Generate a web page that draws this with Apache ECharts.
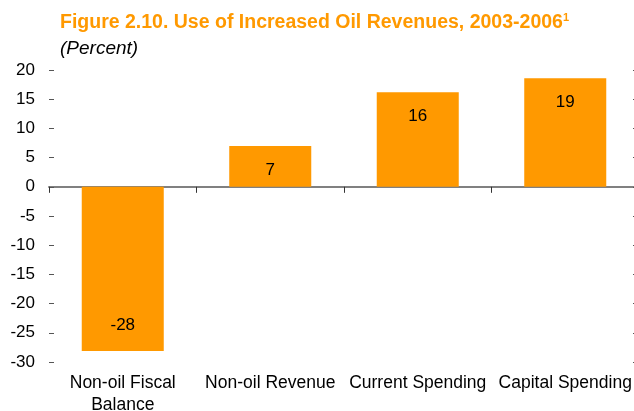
<!DOCTYPE html>
<html>
<head>
<meta charset="utf-8">
<script src="https://cdn.jsdelivr.net/npm/echarts@6/dist/echarts.min.js"></script>
<style>html,body{margin:0;padding:0;background:#fff}#c{width:634px;height:411px}</style>
</head>
<body>
<div id="c"></div>
<script>
const categories = ['Non-oil Fiscal\nBalance', 'Non-oil Revenue', 'Current Spending', 'Capital Spending'];
const values = [-28.1, 7.0, 16.2, 18.6];
const yTicks = { min: -30, max: 20, interval: 5 };

const chart = echarts.init(document.getElementById('c'));
const FONT = '"Liberation Sans", Arial, sans-serif';
chart.setOption({
  animation: false,
  textStyle: { fontFamily: FONT },
  title: [
    {
      text: '{t|Figure 2.10. Use of Increased Oil Revenues, 2003-2006}{s|1}',
      left: 55, top: 7,
      textStyle: {
        rich: {
          t: { fontFamily: FONT, fontSize: 19.5, fontWeight: 'bold', color: '#FF9900' },
          s: { fontFamily: FONT, fontSize: 11, fontWeight: 'bold', color: '#FF9900', verticalAlign: 'top', padding: [0, 0, 10, 0] }
        }
      }
    },
    {
      text: '(Percent)',
      left: 55, top: 34,
      textStyle: { fontFamily: FONT, fontSize: 19, fontStyle: 'italic', fontWeight: 'normal', color: '#000' }
    }
  ],
  grid: { left: 49, top: 70, width: 590, height: 292, containLabel: false, outerBoundsMode: 'none' },
  xAxis: [
    {
      type: 'category', data: categories, position: 'bottom',
      axisLine: { show: false, onZero: false }, axisTick: { show: false },
      axisLabel: { fontSize: 17.5, color: '#000', margin: 10, lineHeight: 22, interval: 0 }
    },
    {
      type: 'category', data: categories, position: 'bottom',
      axisLine: { show: true, onZero: true, lineStyle: { color: '#808080', width: 2 } },
      axisTick: { show: true, length: 6, lineStyle: { color: '#333', width: 1 } },
      axisLabel: { show: false }
    }
  ],
  yAxis: [
    {
      type: 'value', min: yTicks.min, max: yTicks.max, interval: yTicks.interval,
      axisLine: { show: false },
      axisTick: { show: true, inside: true, length: 5, lineStyle: { color: '#555' } },
      splitLine: { show: false },
      axisLabel: { fontSize: 17, color: '#000', margin: 14 }
    },
    {
      type: 'value', position: 'right', min: yTicks.min, max: yTicks.max, interval: yTicks.interval,
      axisLine: { show: false },
      axisTick: { show: true, inside: true, length: 6, lineStyle: { color: '#555' } },
      splitLine: { show: false },
      axisLabel: { show: false }
    }
  ],
  series: [{
    type: 'bar', xAxisIndex: 1, yAxisIndex: 0,
    barWidth: '55.6%',
    itemStyle: { color: '#FF9900' },
    data: values.map(v => ({
      value: v,
      label: { position: v < 0 ? 'insideBottom' : 'insideTop', distance: v < 0 ? 17 : 16 }
    })),
    label: {
      show: true, fontSize: 17, color: '#000', fontFamily: FONT,
      formatter: p => String(Math.round(p.value))
    }
  }]
});
</script>
</body>
</html>
